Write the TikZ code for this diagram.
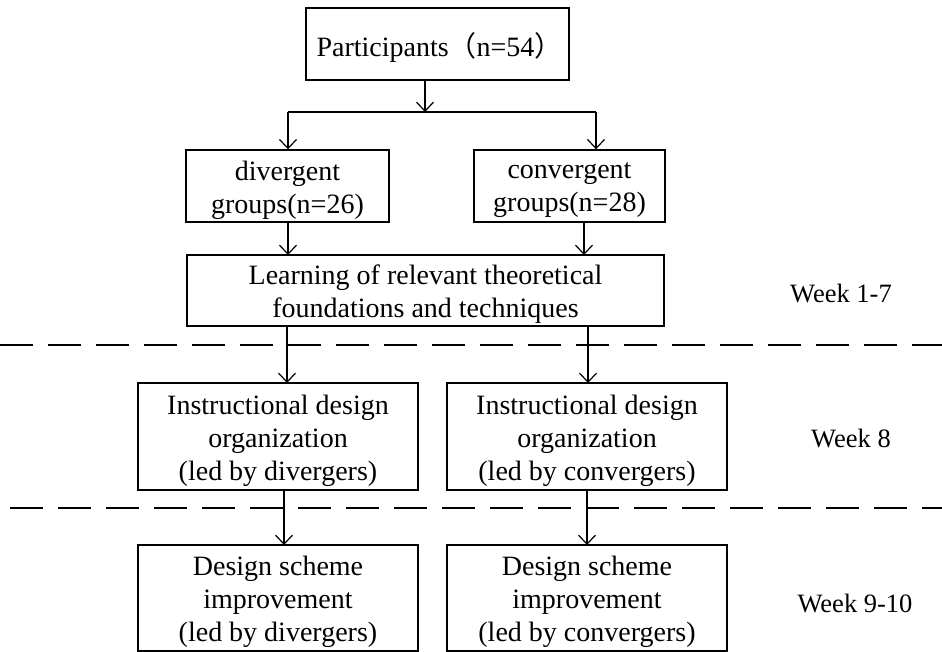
\documentclass[tikz,border=0pt]{standalone}
\usepackage{fontspec}
\setmainfont{Liberation Serif}
\newfontfamily\cjk{Noto Sans CJK SC}
\usetikzlibrary{arrows.meta}
\begin{document}
\begin{tikzpicture}[x=1pt,y=-1pt,
  box/.style={draw,line width=1.4pt,inner sep=0pt},
  txt/.style={align=center,inner sep=0pt,yshift=-4pt,font=\fontsize{28}{33}\selectfont},
  arr/.style={line width=1.2pt,-{Straight Barb[length=9pt,width=17pt,line width=1.2pt]}},
  sep/.style={line width=1.6pt,dash pattern=on 33pt off 15pt},
  wk/.style={font=\fontsize{26.5}{30}\selectfont}]
\useasboundingbox (0,0) rectangle (942,652);
\node[box,minimum width=263pt,minimum height=72pt,label={[txt,xshift=2pt]center:{Participants{\cjk （}n=54{\cjk ）}}}] (p) at (437.5,44) {};
\node[box,minimum width=203pt,minimum height=72pt,label={[txt]center:{divergent\\groups(n=26)}}] (d) at (287.5,186) {};
\node[box,minimum width=191pt,minimum height=72pt,label={[txt]center:{convergent\\groups(n=28)}}] (c) at (569.5,186) {};
\node[box,minimum width=477pt,minimum height=71pt,label={[txt]center:{Learning of relevant theoretical\\foundations and techniques}}] (l) at (425.5,290.5) {};
\node[box,minimum width=280pt,minimum height=107pt,label={[txt]center:{Instructional design\\organization\\(led by divergers)}}] (i1) at (278,436.5) {};
\node[box,minimum width=280pt,minimum height=107pt,label={[txt]center:{Instructional design\\organization\\(led by convergers)}}] (i2) at (587,436.5) {};
\node[box,minimum width=280pt,minimum height=106pt,label={[txt]center:{Design scheme\\improvement\\(led by divergers)}}] (b1) at (278,598) {};
\node[box,minimum width=280pt,minimum height=106pt,label={[txt]center:{Design scheme\\improvement\\(led by convergers)}}] (b2) at (587,598) {};
\node[wk] (w1) at (841,294) {Week 1-7};
\node[wk] (w2) at (851,439) {Week 8};
\node[wk] (w3) at (855,604) {Week 9-10};
\coordinate (j) at (425,112);
\coordinate (jl) at (288,112);
\coordinate (jr) at (596,112);
\draw[arr] (p.south -| j) -- (j);
\draw[line width=1.2pt] (jl) -- (jr);
\draw[arr] (jl) -- (jl |- d.north);
\draw[arr] (jr) -- (jr |- c.north);
\draw[arr] (288,222) -- (288,255);
\draw[arr] (584,222) -- (584,255);
\draw[arr] (287,326) -- (287,383);
\draw[arr] (588,326) -- (588,383);
\draw[arr] (284,490) -- (284,545);
\draw[arr] (587,490) -- (587,545);
\coordinate (s1a) at (0,345); \coordinate (s1b) at (942,345);
\coordinate (s2a) at (10,508); \coordinate (s2b) at (942,508);
\draw[sep] (s1a) -- (s1b);
\draw[sep] (s2a) -- (s2b);
\end{tikzpicture}
\end{document}
